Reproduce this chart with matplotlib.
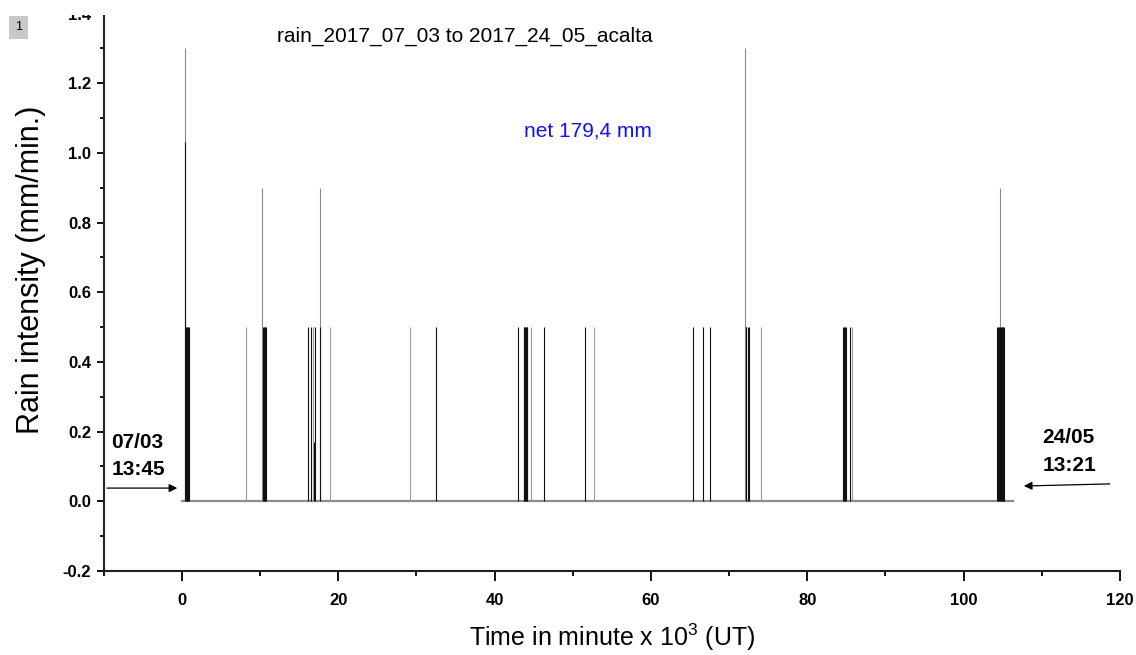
import matplotlib
matplotlib.use("Agg")
import matplotlib.pyplot as plt
from matplotlib.ticker import MultipleLocator, FixedLocator
from matplotlib.patches import Rectangle

plt.rcParams['font.family'] = ['Liberation Sans', 'DejaVu Sans']
plt.rcParams['mathtext.fontset'] = 'custom'
plt.rcParams['mathtext.rm'] = 'Liberation Sans'
plt.rcParams['mathtext.it'] = 'Liberation Sans:italic'
plt.rcParams['mathtext.bf'] = 'Liberation Sans:bold'

# ---- data (time in 10^3 minutes, rain intensity in mm/min) ----
spike_x = [0.38, 0.45, 0.50, 0.60, 0.70, 0.80, 0.90,
           8.18,
           10.23, 10.36, 10.46, 10.56, 10.66, 10.74,
           16.15, 16.46, 16.71, 16.97, 16.92,
           17.65, 17.72,
           18.90,
           29.16, 32.50,
           43.00, 43.70, 43.80, 43.90, 44.00, 44.10, 44.20, 44.67, 46.30,
           51.57, 52.70,
           65.35, 66.66, 67.56,
           72.03, 72.10, 72.20, 72.35, 72.50,
           74.08,
           84.60, 84.70, 84.80, 85.00, 85.40, 85.70,
           104.70, 104.30, 104.40, 104.50, 104.60, 104.75, 104.85, 104.95, 105.05, 105.15]
spike_y = [1.30, 1.03, 0.50, 0.50, 0.50, 0.50, 0.50,
           0.50,
           0.90, 0.50, 0.50, 0.50, 0.50, 0.50,
           0.50, 0.50, 0.50, 0.50, 0.17,
           0.90, 0.50,
           0.50,
           0.50, 0.50,
           0.50, 0.50, 0.50, 0.50, 0.50, 0.50, 0.50, 0.50, 0.50,
           0.50, 0.50,
           0.50, 0.50, 0.50,
           1.30, 0.50, 0.50, 0.50, 0.50,
           0.50,
           0.50, 0.50, 0.50, 0.50, 0.50, 0.50,
           0.90, 0.50, 0.50, 0.50, 0.50, 0.50, 0.50, 0.50, 0.50, 0.50]
baseline_x = [0.0, 106.3]
baseline_y = [0.0, 0.0]

x_ticks = [0, 20, 40, 60, 80, 100, 120]
y_ticks = [-0.2, 0.0, 0.2, 0.4, 0.6, 0.8, 1.0, 1.2, 1.4]

title_text = "rain_2017_07_03 to 2017_24_05_acalta"
net_text = "net 179,4 mm"
start_text = "07/03\n13:45"
end_text = "24/05\n13:21"

# ---- style (kept apart from the data) ----
light_spikes = {7, 16, 21, 22, 31, 34, 43, 49}   # indices drawn in light grey

W, H = 1136, 655
fig = plt.figure(figsize=(W / 100, H / 100), dpi=100)
fig.patch.set_facecolor('white')
ax = fig.add_axes([103.8 / W, 1 - 571 / H, (1120 - 103.8) / W, (571 - 13.6) / H])

ax.set_xlim(-10, 120)
ax.set_ylim(-0.2, 1.4)

# baseline
ax.plot(baseline_x, baseline_y, color='#8c8c8c', lw=1.6, zorder=1)

# spikes: tall ones first (grey), then the rest
order = sorted(range(len(spike_x)), key=lambda i: -spike_y[i])
for i in order:
    y = spike_y[i]
    if y > 1.1 or abs(y - 0.9) < 0.01:
        col = '#8a8a8a'
    elif i in light_spikes:
        col = '#9a9a9a'
    else:
        col = '#111111'
    ax.vlines(spike_x[i], 0, y, color=col, lw=0.8, zorder=2)

# spines
for s in ['top', 'right']:
    ax.spines[s].set_visible(False)
for s in ['left', 'bottom']:
    ax.spines[s].set_linewidth(1.5)
    ax.spines[s].set_color('#222222')

ax.xaxis.set_major_locator(FixedLocator(x_ticks))
ax.xaxis.set_minor_locator(MultipleLocator(10))
ax.yaxis.set_major_locator(FixedLocator(y_ticks))
ax.yaxis.set_minor_locator(MultipleLocator(0.1))
ax.tick_params(axis='x', which='major', direction='out', length=7.5, width=1.3, pad=8, labelsize=12)
ax.tick_params(axis='x', which='minor', direction='out', length=3.8, width=1.3)
ax.tick_params(axis='y', which='major', direction='out', length=5, width=1.3, pad=4, labelsize=12)
ax.tick_params(axis='y', which='minor', direction='out', length=3, width=1.3)
ax.set_xticklabels([str(v) for v in x_ticks])
ax.set_yticklabels([f"{v:.1f}" for v in y_ticks])
for lab in ax.get_xticklabels() + ax.get_yticklabels():
    lab.set_fontweight('bold')

# title and net text
fig.text(465 / W, 1 - 36 / H, title_text, fontsize=15, ha='center', va='center')
fig.text(588 / W, 1 - 131 / H, net_text, fontsize=15, ha='center', va='center', color='#1010ff')

# axis labels
fig.text(31 / W, 1 - 270 / H, "Rain intensity (mm/min.)", fontsize=22, rotation=90,
         ha='center', va='center')
fig.text(612 / W, 1 - 637 / H, r"Time in minute x 10$^{3}$ (UT)", fontsize=18,
         ha='center', va='center')

# start / end annotations
ax.text(-9.0, 0.13, start_text, fontsize=15, fontweight='bold', ha='left', va='center',
        linespacing=1.55)
ax.annotate("", xy=(-0.6, 0.038), xytext=(-9.6, 0.038),
            arrowprops=dict(arrowstyle='-|>', color='black', lw=0.9,
                            mutation_scale=12, shrinkA=0, shrinkB=0))
ax.text(110.1, 0.143, end_text, fontsize=15, fontweight='bold', ha='left', va='center',
        linespacing=1.55, clip_on=False)
ax.annotate("", xy=(107.7, 0.044), xytext=(118.7, 0.05),
            arrowprops=dict(arrowstyle='-|>', color='black', lw=0.9,
                            mutation_scale=12, shrinkA=0, shrinkB=0),
            annotation_clip=False)

# crop mask at the very top (reference is clipped there)
fig.patches.append(Rectangle((0, 1 - 15 / H), 1, 15 / H, transform=fig.transFigure,
                             facecolor='white', edgecolor='none', zorder=10))

# layer marker box
fig.text(18.5 / W, 1 - 27.5 / H, "1", fontsize=9, ha='center', va='center', zorder=11,
         bbox=dict(boxstyle='square,pad=0.45', fc='#c8c8c8', ec='none'))

fig.savefig("out.png", dpi=100, facecolor='white')
